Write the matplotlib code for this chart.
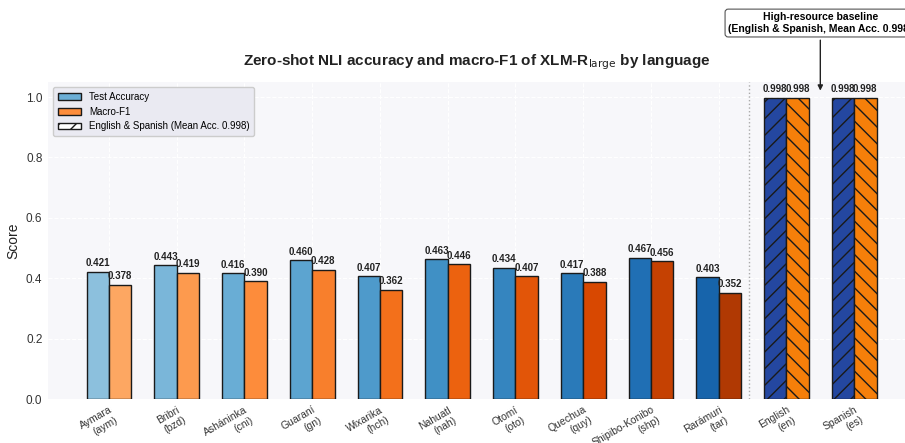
import numpy as np
import matplotlib.pyplot as plt
from matplotlib.patches import Patch

plt.rcParams['font.family'] = ['Liberation Sans', 'DejaVu Sans']
plt.rcParams['hatch.linewidth'] = 1.0

# languages and scores
languages = ['Aymara\n(aym)', 'Bribri\n(bzd)', 'Asháninka\n(cni)', 'Guaraní\n(gn)',
             'Wixarika\n(hch)', 'Nahuatl\n(nah)', 'Otomí\n(oto)', 'Quechua\n(quy)',
             'Shipibo-Konibo\n(shp)', 'Rarámuri\n(tar)', 'English\n(en)', 'Spanish\n(es)']
test_acc = [0.421, 0.443, 0.416, 0.460, 0.407, 0.463, 0.434, 0.417, 0.467, 0.403, 0.998, 0.998]
macro_f1 = [0.378, 0.419, 0.390, 0.428, 0.362, 0.446, 0.407, 0.388, 0.456, 0.352, 0.998, 0.998]
n_low = 10

x = np.arange(len(languages))
w = 0.33

blues = plt.cm.Blues(np.linspace(0.42, 0.8, n_low))
oranges = plt.cm.Oranges(np.linspace(0.4, 0.85, n_low))

fig = plt.figure(figsize=(9.05, 4.43), dpi=100)
ax = fig.add_axes([0.053, 0.099, 0.947, 0.716])
ax.set_facecolor('#f7f7fa')

for i in range(len(languages)):
    if i < n_low:
        ca, cf, ha, hf = blues[i], oranges[i], None, None
    else:
        ca, cf, ha, hf = '#2447a0', '#f57f0a', '//', '\\\\'
    ax.bar(x[i] - w / 2, test_acc[i], w, color=ca, edgecolor='#1a1a1a', linewidth=1.0, hatch=ha, zorder=3)
    ax.bar(x[i] + w / 2, macro_f1[i], w, color=cf, edgecolor='#1a1a1a', linewidth=1.0, hatch=hf, zorder=3)
    ax.text(x[i] - w / 2, test_acc[i] + 0.012, f'{test_acc[i]:.3f}', ha='center', va='bottom',
            fontsize=7, fontweight='bold', color='#222222')
    ax.text(x[i] + w / 2, macro_f1[i] + 0.012, f'{macro_f1[i]:.3f}', ha='center', va='bottom',
            fontsize=7, fontweight='bold', color='#222222')

ax.axvline(9.45, color='#aaaaaa', linestyle=':', linewidth=1.0, zorder=2)

ax.set_xlim(-0.9, 11.75)
ax.set_ylim(0, 1.05)
ax.set_yticks(np.arange(0, 1.01, 0.2))
ax.set_yticklabels([f'{v:.1f}' for v in np.arange(0, 1.01, 0.2)], fontsize=8.5, color='#333333')
ax.set_xticks(x)
ax.set_xticklabels(languages, rotation=30, ha='right', rotation_mode='anchor', fontsize=7.5, color='#333333')
ax.tick_params(length=0, pad=4)
ax.set_ylabel('Score', fontsize=10, color='#222222')
ax.grid(color='white', linestyle='--', linewidth=0.8, zorder=0)
for s in ax.spines.values():
    s.set_visible(False)

ax.set_title(r'Zero-shot NLI accuracy and macro-F1 of XLM-R$_{\mathrm{large}}$ by language',
             fontsize=11, fontweight='bold', pad=12, color='#222222')

handles = [Patch(facecolor='#6baed6', edgecolor='#1a1a1a', label='Test Accuracy'),
           Patch(facecolor='#fd8d3c', edgecolor='#1a1a1a', label='Macro-F1'),
           Patch(facecolor='white', edgecolor='#1a1a1a', hatch='//', label='English & Spanish (Mean Acc. 0.998)')]
ax.legend(handles=handles, loc='upper left', fontsize=7, facecolor='#eaeaf2', edgecolor='#cccccc',
          framealpha=1, handlelength=2.4, borderpad=0.5)

ax.annotate('High-resource baseline\n(English & Spanish, Mean Acc. 0.998)',
            xy=(10.5, 1.012), xytext=(10.5, 1.245), ha='center', va='center',
            fontsize=7.5, fontweight='bold', annotation_clip=False,
            bbox=dict(boxstyle='round,pad=0.3', facecolor='white', edgecolor='#555555', linewidth=0.8),
            arrowprops=dict(arrowstyle='-|>', color='#222222', linewidth=1.0))

fig.savefig('out.png', dpi=100)
